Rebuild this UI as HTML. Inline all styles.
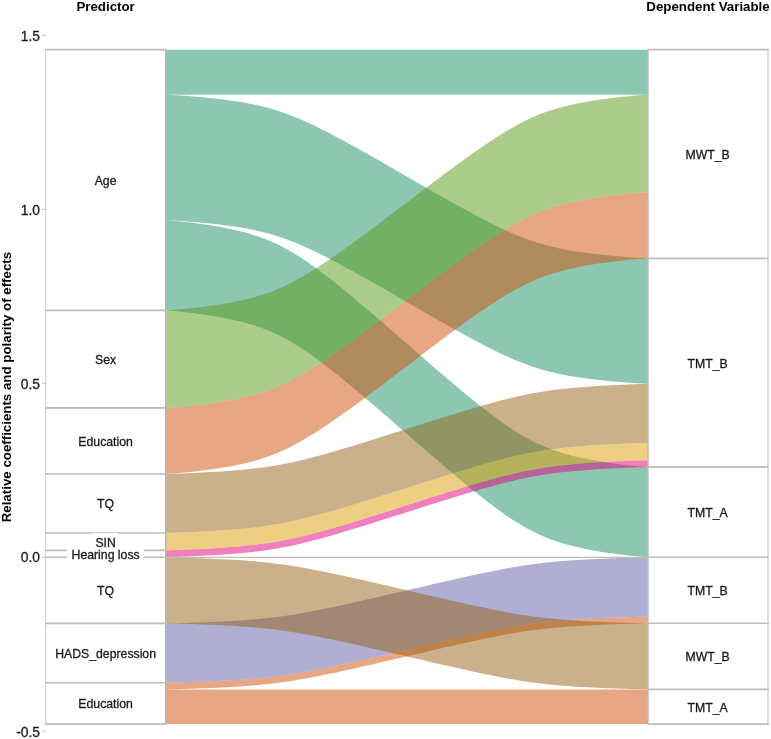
<!DOCTYPE html>
<html><head><meta charset="utf-8"><style>
html,body{margin:0;padding:0;background:#fff;}
body{width:771px;height:739px;overflow:hidden;}
svg{display:block;will-change:transform;font-family:"Liberation Sans",sans-serif;}
.lab{font-size:12.25px;fill:#1a1a1a;stroke:#1a1a1a;stroke-width:0.3px;text-anchor:middle;}
.tick{font-size:13.8px;fill:#1a1a1a;stroke:#1a1a1a;stroke-width:0.3px;text-anchor:end;}
.ttl{font-size:13.3px;font-weight:bold;fill:#000;}
</style></head><body>
<svg width="771" height="739" viewBox="0 0 771 739">
<path d="M165.60 49.65 L165.62 49.65 L165.72 49.65 L166.01 49.65 L166.54 49.65 L167.38 49.65 L168.59 49.65 L170.19 49.65 L172.22 49.65 L174.67 49.65 L177.56 49.65 L180.85 49.65 L184.52 49.65 L188.53 49.65 L192.81 49.65 L197.34 49.65 L202.04 49.65 L206.86 49.65 L211.76 49.65 L216.70 49.65 L221.62 49.65 L226.51 49.65 L231.33 49.65 L236.07 49.65 L240.71 49.65 L245.26 49.65 L249.69 49.65 L254.03 49.65 L258.27 49.65 L262.43 49.65 L266.51 49.65 L270.52 49.65 L274.49 49.65 L278.43 49.65 L282.34 49.65 L286.26 49.65 L290.18 49.65 L294.14 49.65 L298.14 49.65 L302.19 49.65 L306.30 49.65 L310.48 49.65 L314.74 49.65 L319.08 49.65 L323.52 49.65 L328.05 49.65 L332.68 49.65 L337.41 49.65 L342.25 49.65 L347.20 49.65 L352.24 49.65 L357.38 49.65 L362.61 49.65 L367.93 49.65 L373.33 49.65 L378.80 49.65 L384.32 49.65 L389.90 49.65 L395.51 49.65 L401.15 49.65 L406.80 49.65 L412.45 49.65 L418.09 49.65 L423.70 49.65 L429.28 49.65 L434.80 49.65 L440.27 49.65 L445.67 49.65 L450.99 49.65 L456.22 49.65 L461.36 49.65 L466.40 49.65 L471.35 49.65 L476.19 49.65 L480.92 49.65 L485.55 49.65 L490.08 49.65 L494.52 49.65 L498.86 49.65 L503.12 49.65 L507.30 49.65 L511.41 49.65 L515.46 49.65 L519.46 49.65 L523.42 49.65 L527.34 49.65 L531.26 49.65 L535.17 49.65 L539.11 49.65 L543.08 49.65 L547.09 49.65 L551.17 49.65 L555.33 49.65 L559.57 49.65 L563.91 49.65 L568.34 49.65 L572.89 49.65 L577.53 49.65 L582.27 49.65 L587.09 49.65 L591.98 49.65 L596.90 49.65 L601.84 49.65 L606.74 49.65 L611.56 49.65 L616.26 49.65 L620.79 49.65 L625.07 49.65 L629.08 49.65 L632.75 49.65 L636.04 49.65 L638.93 49.65 L641.38 49.65 L643.41 49.65 L645.01 49.65 L646.22 49.65 L647.06 49.65 L647.59 49.65 L647.88 49.65 L647.98 49.65 L648.00 49.65 L648.00 94.65 L647.98 94.65 L647.88 94.65 L647.59 94.65 L647.06 94.65 L646.22 94.65 L645.01 94.65 L643.41 94.65 L641.38 94.65 L638.93 94.65 L636.04 94.65 L632.75 94.65 L629.08 94.65 L625.07 94.65 L620.79 94.65 L616.26 94.65 L611.56 94.65 L606.74 94.65 L601.84 94.65 L596.90 94.65 L591.98 94.65 L587.09 94.65 L582.27 94.65 L577.53 94.65 L572.89 94.65 L568.34 94.65 L563.91 94.65 L559.57 94.65 L555.33 94.65 L551.17 94.65 L547.09 94.65 L543.08 94.65 L539.11 94.65 L535.17 94.65 L531.26 94.65 L527.34 94.65 L523.42 94.65 L519.46 94.65 L515.46 94.65 L511.41 94.65 L507.30 94.65 L503.12 94.65 L498.86 94.65 L494.52 94.65 L490.08 94.65 L485.55 94.65 L480.92 94.65 L476.19 94.65 L471.35 94.65 L466.40 94.65 L461.36 94.65 L456.22 94.65 L450.99 94.65 L445.67 94.65 L440.27 94.65 L434.80 94.65 L429.28 94.65 L423.70 94.65 L418.09 94.65 L412.45 94.65 L406.80 94.65 L401.15 94.65 L395.51 94.65 L389.90 94.65 L384.32 94.65 L378.80 94.65 L373.33 94.65 L367.93 94.65 L362.61 94.65 L357.38 94.65 L352.24 94.65 L347.20 94.65 L342.25 94.65 L337.41 94.65 L332.68 94.65 L328.05 94.65 L323.52 94.65 L319.08 94.65 L314.74 94.65 L310.48 94.65 L306.30 94.65 L302.19 94.65 L298.14 94.65 L294.14 94.65 L290.18 94.65 L286.26 94.65 L282.34 94.65 L278.43 94.65 L274.49 94.65 L270.52 94.65 L266.51 94.65 L262.43 94.65 L258.27 94.65 L254.03 94.65 L249.69 94.65 L245.26 94.65 L240.71 94.65 L236.07 94.65 L231.33 94.65 L226.51 94.65 L221.62 94.65 L216.70 94.65 L211.76 94.65 L206.86 94.65 L202.04 94.65 L197.34 94.65 L192.81 94.65 L188.53 94.65 L184.52 94.65 L180.85 94.65 L177.56 94.65 L174.67 94.65 L172.22 94.65 L170.19 94.65 L168.59 94.65 L167.38 94.65 L166.54 94.65 L166.01 94.65 L165.72 94.65 L165.62 94.65 L165.60 94.65Z" fill="#1b8f63" fill-opacity="0.500"/>
<path d="M165.60 94.65 L165.62 94.65 L165.72 94.66 L166.01 94.67 L166.54 94.69 L167.38 94.73 L168.59 94.79 L170.19 94.88 L172.22 95.00 L174.67 95.14 L177.56 95.33 L180.85 95.55 L184.52 95.81 L188.53 96.11 L192.81 96.45 L197.34 96.83 L202.04 97.25 L206.86 97.72 L211.76 98.22 L216.70 98.77 L221.62 99.35 L226.51 99.97 L231.33 100.64 L236.07 101.34 L240.71 102.08 L245.26 102.87 L249.69 103.70 L254.03 104.58 L258.27 105.50 L262.43 106.48 L266.51 107.52 L270.52 108.62 L274.49 109.78 L278.43 111.01 L282.34 112.32 L286.26 113.70 L290.18 115.17 L294.14 116.72 L298.14 118.37 L302.19 120.10 L306.30 121.93 L310.48 123.85 L314.74 125.87 L319.08 127.98 L323.52 130.19 L328.05 132.49 L332.68 134.89 L337.41 137.38 L342.25 139.97 L347.20 142.65 L352.24 145.41 L357.38 148.26 L362.61 151.18 L367.93 154.18 L373.33 157.24 L378.80 160.36 L384.32 163.53 L389.90 166.74 L395.51 169.97 L401.15 173.23 L406.80 176.50 L412.45 179.77 L418.09 183.03 L423.70 186.26 L429.28 189.47 L434.80 192.64 L440.27 195.76 L445.67 198.82 L450.99 201.82 L456.22 204.74 L461.36 207.59 L466.40 210.35 L471.35 213.03 L476.19 215.62 L480.92 218.11 L485.55 220.51 L490.08 222.81 L494.52 225.02 L498.86 227.13 L503.12 229.15 L507.30 231.07 L511.41 232.90 L515.46 234.63 L519.46 236.28 L523.42 237.83 L527.34 239.30 L531.26 240.68 L535.17 241.99 L539.11 243.22 L543.08 244.38 L547.09 245.48 L551.17 246.52 L555.33 247.50 L559.57 248.42 L563.91 249.30 L568.34 250.13 L572.89 250.92 L577.53 251.66 L582.27 252.36 L587.09 253.03 L591.98 253.65 L596.90 254.23 L601.84 254.78 L606.74 255.28 L611.56 255.75 L616.26 256.17 L620.79 256.55 L625.07 256.89 L629.08 257.19 L632.75 257.45 L636.04 257.67 L638.93 257.86 L641.38 258.00 L643.41 258.12 L645.01 258.21 L646.22 258.27 L647.06 258.31 L647.59 258.33 L647.88 258.34 L647.98 258.35 L648.00 258.35 L648.00 383.85 L647.98 383.85 L647.88 383.84 L647.59 383.83 L647.06 383.81 L646.22 383.77 L645.01 383.71 L643.41 383.62 L641.38 383.50 L638.93 383.36 L636.04 383.17 L632.75 382.95 L629.08 382.69 L625.07 382.39 L620.79 382.05 L616.26 381.67 L611.56 381.25 L606.74 380.78 L601.84 380.28 L596.90 379.73 L591.98 379.15 L587.09 378.53 L582.27 377.86 L577.53 377.16 L572.89 376.42 L568.34 375.63 L563.91 374.80 L559.57 373.92 L555.33 373.00 L551.17 372.02 L547.09 370.98 L543.08 369.88 L539.11 368.72 L535.17 367.49 L531.26 366.18 L527.34 364.80 L523.42 363.33 L519.46 361.78 L515.46 360.13 L511.41 358.40 L507.30 356.57 L503.12 354.65 L498.86 352.63 L494.52 350.52 L490.08 348.31 L485.55 346.01 L480.92 343.61 L476.19 341.12 L471.35 338.53 L466.40 335.85 L461.36 333.09 L456.22 330.24 L450.99 327.32 L445.67 324.32 L440.27 321.26 L434.80 318.14 L429.28 314.97 L423.70 311.76 L418.09 308.53 L412.45 305.27 L406.80 302.00 L401.15 298.73 L395.51 295.47 L389.90 292.24 L384.32 289.03 L378.80 285.86 L373.33 282.74 L367.93 279.68 L362.61 276.68 L357.38 273.76 L352.24 270.91 L347.20 268.15 L342.25 265.47 L337.41 262.88 L332.68 260.39 L328.05 257.99 L323.52 255.69 L319.08 253.48 L314.74 251.37 L310.48 249.35 L306.30 247.43 L302.19 245.60 L298.14 243.87 L294.14 242.22 L290.18 240.67 L286.26 239.20 L282.34 237.82 L278.43 236.51 L274.49 235.28 L270.52 234.12 L266.51 233.02 L262.43 231.98 L258.27 231.00 L254.03 230.08 L249.69 229.20 L245.26 228.37 L240.71 227.58 L236.07 226.84 L231.33 226.14 L226.51 225.47 L221.62 224.85 L216.70 224.27 L211.76 223.72 L206.86 223.22 L202.04 222.75 L197.34 222.33 L192.81 221.95 L188.53 221.61 L184.52 221.31 L180.85 221.05 L177.56 220.83 L174.67 220.64 L172.22 220.50 L170.19 220.38 L168.59 220.29 L167.38 220.23 L166.54 220.19 L166.01 220.17 L165.72 220.16 L165.62 220.15 L165.60 220.15Z" fill="#1b8f63" fill-opacity="0.500"/>
<path d="M165.60 220.15 L165.62 220.15 L165.72 220.16 L166.01 220.18 L166.54 220.21 L167.38 220.28 L168.59 220.37 L170.19 220.50 L172.22 220.67 L174.67 220.89 L177.56 221.17 L180.85 221.50 L184.52 221.89 L188.53 222.35 L192.81 222.86 L197.34 223.44 L202.04 224.08 L206.86 224.78 L211.76 225.54 L216.70 226.36 L221.62 227.24 L226.51 228.18 L231.33 229.18 L236.07 230.24 L240.71 231.36 L245.26 232.55 L249.69 233.80 L254.03 235.13 L258.27 236.52 L262.43 238.00 L266.51 239.57 L270.52 241.22 L274.49 242.97 L278.43 244.83 L282.34 246.80 L286.26 248.89 L290.18 251.10 L294.14 253.45 L298.14 255.93 L302.19 258.55 L306.30 261.31 L310.48 264.21 L314.74 267.25 L319.08 270.43 L323.52 273.76 L328.05 277.23 L332.68 280.85 L337.41 284.61 L342.25 288.51 L347.20 292.55 L352.24 296.73 L357.38 301.02 L362.61 305.44 L367.93 309.96 L373.33 314.58 L378.80 319.28 L384.32 324.06 L389.90 328.90 L395.51 333.78 L401.15 338.70 L406.80 343.63 L412.45 348.55 L418.09 353.47 L423.70 358.35 L429.28 363.19 L434.80 367.97 L440.27 372.67 L445.67 377.29 L450.99 381.81 L456.22 386.23 L461.36 390.52 L466.40 394.70 L471.35 398.74 L476.19 402.64 L480.92 406.40 L485.55 410.02 L490.08 413.49 L494.52 416.82 L498.86 420.00 L503.12 423.04 L507.30 425.94 L511.41 428.70 L515.46 431.32 L519.46 433.80 L523.42 436.15 L527.34 438.36 L531.26 440.45 L535.17 442.42 L539.11 444.28 L543.08 446.03 L547.09 447.68 L551.17 449.25 L555.33 450.73 L559.57 452.12 L563.91 453.45 L568.34 454.70 L572.89 455.89 L577.53 457.01 L582.27 458.07 L587.09 459.07 L591.98 460.01 L596.90 460.89 L601.84 461.71 L606.74 462.47 L611.56 463.17 L616.26 463.81 L620.79 464.39 L625.07 464.90 L629.08 465.36 L632.75 465.75 L636.04 466.08 L638.93 466.36 L641.38 466.58 L643.41 466.75 L645.01 466.88 L646.22 466.97 L647.06 467.04 L647.59 467.07 L647.88 467.09 L647.98 467.10 L648.00 467.10 L648.00 557.30 L647.98 557.30 L647.88 557.29 L647.59 557.27 L647.06 557.24 L646.22 557.17 L645.01 557.08 L643.41 556.95 L641.38 556.78 L638.93 556.56 L636.04 556.28 L632.75 555.95 L629.08 555.56 L625.07 555.10 L620.79 554.59 L616.26 554.01 L611.56 553.37 L606.74 552.67 L601.84 551.91 L596.90 551.09 L591.98 550.21 L587.09 549.27 L582.27 548.27 L577.53 547.21 L572.89 546.09 L568.34 544.90 L563.91 543.65 L559.57 542.32 L555.33 540.93 L551.17 539.45 L547.09 537.88 L543.08 536.23 L539.11 534.48 L535.17 532.62 L531.26 530.65 L527.34 528.56 L523.42 526.35 L519.46 524.00 L515.46 521.52 L511.41 518.90 L507.30 516.14 L503.12 513.24 L498.86 510.20 L494.52 507.02 L490.08 503.69 L485.55 500.22 L480.92 496.60 L476.19 492.84 L471.35 488.94 L466.40 484.90 L461.36 480.72 L456.22 476.43 L450.99 472.01 L445.67 467.49 L440.27 462.87 L434.80 458.17 L429.28 453.39 L423.70 448.55 L418.09 443.67 L412.45 438.75 L406.80 433.82 L401.15 428.90 L395.51 423.98 L389.90 419.10 L384.32 414.26 L378.80 409.48 L373.33 404.78 L367.93 400.16 L362.61 395.64 L357.38 391.22 L352.24 386.93 L347.20 382.75 L342.25 378.71 L337.41 374.81 L332.68 371.05 L328.05 367.43 L323.52 363.96 L319.08 360.63 L314.74 357.45 L310.48 354.41 L306.30 351.51 L302.19 348.75 L298.14 346.13 L294.14 343.65 L290.18 341.30 L286.26 339.09 L282.34 337.00 L278.43 335.03 L274.49 333.17 L270.52 331.42 L266.51 329.77 L262.43 328.20 L258.27 326.72 L254.03 325.33 L249.69 324.00 L245.26 322.75 L240.71 321.56 L236.07 320.44 L231.33 319.38 L226.51 318.38 L221.62 317.44 L216.70 316.56 L211.76 315.74 L206.86 314.98 L202.04 314.28 L197.34 313.64 L192.81 313.06 L188.53 312.55 L184.52 312.09 L180.85 311.70 L177.56 311.37 L174.67 311.09 L172.22 310.87 L170.19 310.70 L168.59 310.57 L167.38 310.48 L166.54 310.41 L166.01 310.38 L165.72 310.36 L165.62 310.35 L165.60 310.35Z" fill="#1b8f63" fill-opacity="0.500"/>
<path d="M165.60 407.85 L165.62 407.85 L165.72 407.84 L166.01 407.83 L166.54 407.79 L167.38 407.74 L168.59 407.66 L170.19 407.55 L172.22 407.39 L174.67 407.20 L177.56 406.96 L180.85 406.67 L184.52 406.33 L188.53 405.93 L192.81 405.48 L197.34 404.98 L202.04 404.42 L206.86 403.81 L211.76 403.14 L216.70 402.43 L221.62 401.66 L226.51 400.83 L231.33 399.96 L236.07 399.04 L240.71 398.06 L245.26 397.02 L249.69 395.93 L254.03 394.77 L258.27 393.55 L262.43 392.26 L266.51 390.89 L270.52 389.45 L274.49 387.91 L278.43 386.29 L282.34 384.57 L286.26 382.75 L290.18 380.82 L294.14 378.77 L298.14 376.60 L302.19 374.31 L306.30 371.90 L310.48 369.37 L314.74 366.71 L319.08 363.93 L323.52 361.03 L328.05 357.99 L332.68 354.83 L337.41 351.55 L342.25 348.14 L347.20 344.61 L352.24 340.97 L357.38 337.21 L362.61 333.36 L367.93 329.41 L373.33 325.37 L378.80 321.26 L384.32 317.09 L389.90 312.86 L395.51 308.60 L401.15 304.31 L406.80 300.00 L412.45 295.69 L418.09 291.40 L423.70 287.14 L429.28 282.91 L434.80 278.74 L440.27 274.63 L445.67 270.59 L450.99 266.64 L456.22 262.79 L461.36 259.03 L466.40 255.39 L471.35 251.86 L476.19 248.45 L480.92 245.17 L485.55 242.01 L490.08 238.97 L494.52 236.07 L498.86 233.29 L503.12 230.63 L507.30 228.10 L511.41 225.69 L515.46 223.40 L519.46 221.23 L523.42 219.18 L527.34 217.25 L531.26 215.43 L535.17 213.71 L539.11 212.09 L543.08 210.55 L547.09 209.11 L551.17 207.74 L555.33 206.45 L559.57 205.23 L563.91 204.07 L568.34 202.98 L572.89 201.94 L577.53 200.96 L582.27 200.04 L587.09 199.17 L591.98 198.34 L596.90 197.57 L601.84 196.86 L606.74 196.19 L611.56 195.58 L616.26 195.02 L620.79 194.52 L625.07 194.07 L629.08 193.67 L632.75 193.33 L636.04 193.04 L638.93 192.80 L641.38 192.61 L643.41 192.45 L645.01 192.34 L646.22 192.26 L647.06 192.21 L647.59 192.17 L647.88 192.16 L647.98 192.15 L648.00 192.15 L648.00 258.35 L647.98 258.35 L647.88 258.36 L647.59 258.37 L647.06 258.41 L646.22 258.46 L645.01 258.54 L643.41 258.65 L641.38 258.81 L638.93 259.00 L636.04 259.24 L632.75 259.53 L629.08 259.87 L625.07 260.27 L620.79 260.72 L616.26 261.22 L611.56 261.78 L606.74 262.39 L601.84 263.06 L596.90 263.77 L591.98 264.54 L587.09 265.37 L582.27 266.24 L577.53 267.16 L572.89 268.14 L568.34 269.18 L563.91 270.27 L559.57 271.43 L555.33 272.65 L551.17 273.94 L547.09 275.31 L543.08 276.75 L539.11 278.29 L535.17 279.91 L531.26 281.63 L527.34 283.45 L523.42 285.38 L519.46 287.43 L515.46 289.60 L511.41 291.89 L507.30 294.30 L503.12 296.83 L498.86 299.49 L494.52 302.27 L490.08 305.17 L485.55 308.21 L480.92 311.37 L476.19 314.65 L471.35 318.06 L466.40 321.59 L461.36 325.23 L456.22 328.99 L450.99 332.84 L445.67 336.79 L440.27 340.83 L434.80 344.94 L429.28 349.11 L423.70 353.34 L418.09 357.60 L412.45 361.89 L406.80 366.20 L401.15 370.51 L395.51 374.80 L389.90 379.06 L384.32 383.29 L378.80 387.46 L373.33 391.57 L367.93 395.61 L362.61 399.56 L357.38 403.41 L352.24 407.17 L347.20 410.81 L342.25 414.34 L337.41 417.75 L332.68 421.03 L328.05 424.19 L323.52 427.23 L319.08 430.13 L314.74 432.91 L310.48 435.57 L306.30 438.10 L302.19 440.51 L298.14 442.80 L294.14 444.97 L290.18 447.02 L286.26 448.95 L282.34 450.77 L278.43 452.49 L274.49 454.11 L270.52 455.65 L266.51 457.09 L262.43 458.46 L258.27 459.75 L254.03 460.97 L249.69 462.13 L245.26 463.22 L240.71 464.26 L236.07 465.24 L231.33 466.16 L226.51 467.03 L221.62 467.86 L216.70 468.63 L211.76 469.34 L206.86 470.01 L202.04 470.62 L197.34 471.18 L192.81 471.68 L188.53 472.13 L184.52 472.53 L180.85 472.87 L177.56 473.16 L174.67 473.40 L172.22 473.59 L170.19 473.75 L168.59 473.86 L167.38 473.94 L166.54 473.99 L166.01 474.03 L165.72 474.04 L165.62 474.05 L165.60 474.05Z" fill="#cf4d09" fill-opacity="0.500"/>
<path d="M165.60 682.70 L165.62 682.70 L165.72 682.70 L166.01 682.69 L166.54 682.68 L167.38 682.67 L168.59 682.64 L170.19 682.61 L172.22 682.56 L174.67 682.50 L177.56 682.43 L180.85 682.34 L184.52 682.23 L188.53 682.11 L192.81 681.97 L197.34 681.82 L202.04 681.65 L206.86 681.46 L211.76 681.26 L216.70 681.04 L221.62 680.80 L226.51 680.55 L231.33 680.28 L236.07 680.00 L240.71 679.70 L245.26 679.38 L249.69 679.05 L254.03 678.69 L258.27 678.32 L262.43 677.92 L266.51 677.50 L270.52 677.06 L274.49 676.59 L278.43 676.09 L282.34 675.57 L286.26 675.01 L290.18 674.42 L294.14 673.79 L298.14 673.12 L302.19 672.42 L306.30 671.68 L310.48 670.91 L314.74 670.09 L319.08 669.24 L323.52 668.35 L328.05 667.42 L332.68 666.45 L337.41 665.45 L342.25 664.40 L347.20 663.32 L352.24 662.20 L357.38 661.05 L362.61 659.87 L367.93 658.66 L373.33 657.43 L378.80 656.17 L384.32 654.89 L389.90 653.59 L395.51 652.28 L401.15 650.97 L406.80 649.65 L412.45 648.33 L418.09 647.02 L423.70 645.71 L429.28 644.41 L434.80 643.13 L440.27 641.87 L445.67 640.64 L450.99 639.43 L456.22 638.25 L461.36 637.10 L466.40 635.98 L471.35 634.90 L476.19 633.85 L480.92 632.85 L485.55 631.88 L490.08 630.95 L494.52 630.06 L498.86 629.21 L503.12 628.39 L507.30 627.62 L511.41 626.88 L515.46 626.18 L519.46 625.51 L523.42 624.88 L527.34 624.29 L531.26 623.73 L535.17 623.21 L539.11 622.71 L543.08 622.24 L547.09 621.80 L551.17 621.38 L555.33 620.98 L559.57 620.61 L563.91 620.25 L568.34 619.92 L572.89 619.60 L577.53 619.30 L582.27 619.02 L587.09 618.75 L591.98 618.50 L596.90 618.26 L601.84 618.04 L606.74 617.84 L611.56 617.65 L616.26 617.48 L620.79 617.33 L625.07 617.19 L629.08 617.07 L632.75 616.96 L636.04 616.87 L638.93 616.80 L641.38 616.74 L643.41 616.69 L645.01 616.66 L646.22 616.63 L647.06 616.62 L647.59 616.61 L647.88 616.60 L647.98 616.60 L648.00 616.60 L648.00 623.30 L647.98 623.30 L647.88 623.30 L647.59 623.31 L647.06 623.32 L646.22 623.33 L645.01 623.36 L643.41 623.39 L641.38 623.44 L638.93 623.50 L636.04 623.57 L632.75 623.66 L629.08 623.77 L625.07 623.89 L620.79 624.03 L616.26 624.18 L611.56 624.35 L606.74 624.54 L601.84 624.74 L596.90 624.96 L591.98 625.20 L587.09 625.45 L582.27 625.72 L577.53 626.00 L572.89 626.30 L568.34 626.62 L563.91 626.95 L559.57 627.31 L555.33 627.68 L551.17 628.08 L547.09 628.50 L543.08 628.94 L539.11 629.41 L535.17 629.91 L531.26 630.43 L527.34 630.99 L523.42 631.58 L519.46 632.21 L515.46 632.88 L511.41 633.58 L507.30 634.32 L503.12 635.09 L498.86 635.91 L494.52 636.76 L490.08 637.65 L485.55 638.58 L480.92 639.55 L476.19 640.55 L471.35 641.60 L466.40 642.68 L461.36 643.80 L456.22 644.95 L450.99 646.13 L445.67 647.34 L440.27 648.57 L434.80 649.83 L429.28 651.11 L423.70 652.41 L418.09 653.72 L412.45 655.03 L406.80 656.35 L401.15 657.67 L395.51 658.98 L389.90 660.29 L384.32 661.59 L378.80 662.87 L373.33 664.13 L367.93 665.36 L362.61 666.57 L357.38 667.75 L352.24 668.90 L347.20 670.02 L342.25 671.10 L337.41 672.15 L332.68 673.15 L328.05 674.12 L323.52 675.05 L319.08 675.94 L314.74 676.79 L310.48 677.61 L306.30 678.38 L302.19 679.12 L298.14 679.82 L294.14 680.49 L290.18 681.12 L286.26 681.71 L282.34 682.27 L278.43 682.79 L274.49 683.29 L270.52 683.76 L266.51 684.20 L262.43 684.62 L258.27 685.02 L254.03 685.39 L249.69 685.75 L245.26 686.08 L240.71 686.40 L236.07 686.70 L231.33 686.98 L226.51 687.25 L221.62 687.50 L216.70 687.74 L211.76 687.96 L206.86 688.16 L202.04 688.35 L197.34 688.52 L192.81 688.67 L188.53 688.81 L184.52 688.93 L180.85 689.04 L177.56 689.13 L174.67 689.20 L172.22 689.26 L170.19 689.31 L168.59 689.34 L167.38 689.37 L166.54 689.38 L166.01 689.39 L165.72 689.40 L165.62 689.40 L165.60 689.40Z" fill="#cf4d09" fill-opacity="0.500"/>
<path d="M165.60 689.40 L165.62 689.40 L165.72 689.40 L166.01 689.40 L166.54 689.40 L167.38 689.40 L168.59 689.40 L170.19 689.40 L172.22 689.40 L174.67 689.40 L177.56 689.40 L180.85 689.40 L184.52 689.40 L188.53 689.40 L192.81 689.40 L197.34 689.40 L202.04 689.40 L206.86 689.40 L211.76 689.40 L216.70 689.40 L221.62 689.40 L226.51 689.40 L231.33 689.40 L236.07 689.40 L240.71 689.40 L245.26 689.40 L249.69 689.40 L254.03 689.40 L258.27 689.40 L262.43 689.40 L266.51 689.40 L270.52 689.40 L274.49 689.40 L278.43 689.40 L282.34 689.40 L286.26 689.40 L290.18 689.40 L294.14 689.40 L298.14 689.40 L302.19 689.40 L306.30 689.40 L310.48 689.40 L314.74 689.40 L319.08 689.40 L323.52 689.40 L328.05 689.40 L332.68 689.40 L337.41 689.40 L342.25 689.40 L347.20 689.40 L352.24 689.40 L357.38 689.40 L362.61 689.40 L367.93 689.40 L373.33 689.40 L378.80 689.40 L384.32 689.40 L389.90 689.40 L395.51 689.40 L401.15 689.40 L406.80 689.40 L412.45 689.40 L418.09 689.40 L423.70 689.40 L429.28 689.40 L434.80 689.40 L440.27 689.40 L445.67 689.40 L450.99 689.40 L456.22 689.40 L461.36 689.40 L466.40 689.40 L471.35 689.40 L476.19 689.40 L480.92 689.40 L485.55 689.40 L490.08 689.40 L494.52 689.40 L498.86 689.40 L503.12 689.40 L507.30 689.40 L511.41 689.40 L515.46 689.40 L519.46 689.40 L523.42 689.40 L527.34 689.40 L531.26 689.40 L535.17 689.40 L539.11 689.40 L543.08 689.40 L547.09 689.40 L551.17 689.40 L555.33 689.40 L559.57 689.40 L563.91 689.40 L568.34 689.40 L572.89 689.40 L577.53 689.40 L582.27 689.40 L587.09 689.40 L591.98 689.40 L596.90 689.40 L601.84 689.40 L606.74 689.40 L611.56 689.40 L616.26 689.40 L620.79 689.40 L625.07 689.40 L629.08 689.40 L632.75 689.40 L636.04 689.40 L638.93 689.40 L641.38 689.40 L643.41 689.40 L645.01 689.40 L646.22 689.40 L647.06 689.40 L647.59 689.40 L647.88 689.40 L647.98 689.40 L648.00 689.40 L648.00 724.10 L647.98 724.10 L647.88 724.10 L647.59 724.10 L647.06 724.10 L646.22 724.10 L645.01 724.10 L643.41 724.10 L641.38 724.10 L638.93 724.10 L636.04 724.10 L632.75 724.10 L629.08 724.10 L625.07 724.10 L620.79 724.10 L616.26 724.10 L611.56 724.10 L606.74 724.10 L601.84 724.10 L596.90 724.10 L591.98 724.10 L587.09 724.10 L582.27 724.10 L577.53 724.10 L572.89 724.10 L568.34 724.10 L563.91 724.10 L559.57 724.10 L555.33 724.10 L551.17 724.10 L547.09 724.10 L543.08 724.10 L539.11 724.10 L535.17 724.10 L531.26 724.10 L527.34 724.10 L523.42 724.10 L519.46 724.10 L515.46 724.10 L511.41 724.10 L507.30 724.10 L503.12 724.10 L498.86 724.10 L494.52 724.10 L490.08 724.10 L485.55 724.10 L480.92 724.10 L476.19 724.10 L471.35 724.10 L466.40 724.10 L461.36 724.10 L456.22 724.10 L450.99 724.10 L445.67 724.10 L440.27 724.10 L434.80 724.10 L429.28 724.10 L423.70 724.10 L418.09 724.10 L412.45 724.10 L406.80 724.10 L401.15 724.10 L395.51 724.10 L389.90 724.10 L384.32 724.10 L378.80 724.10 L373.33 724.10 L367.93 724.10 L362.61 724.10 L357.38 724.10 L352.24 724.10 L347.20 724.10 L342.25 724.10 L337.41 724.10 L332.68 724.10 L328.05 724.10 L323.52 724.10 L319.08 724.10 L314.74 724.10 L310.48 724.10 L306.30 724.10 L302.19 724.10 L298.14 724.10 L294.14 724.10 L290.18 724.10 L286.26 724.10 L282.34 724.10 L278.43 724.10 L274.49 724.10 L270.52 724.10 L266.51 724.10 L262.43 724.10 L258.27 724.10 L254.03 724.10 L249.69 724.10 L245.26 724.10 L240.71 724.10 L236.07 724.10 L231.33 724.10 L226.51 724.10 L221.62 724.10 L216.70 724.10 L211.76 724.10 L206.86 724.10 L202.04 724.10 L197.34 724.10 L192.81 724.10 L188.53 724.10 L184.52 724.10 L180.85 724.10 L177.56 724.10 L174.67 724.10 L172.22 724.10 L170.19 724.10 L168.59 724.10 L167.38 724.10 L166.54 724.10 L166.01 724.10 L165.72 724.10 L165.62 724.10 L165.60 724.10Z" fill="#cf4d09" fill-opacity="0.500"/>
<path d="M165.60 623.40 L165.62 623.40 L165.72 623.40 L166.01 623.39 L166.54 623.38 L167.38 623.37 L168.59 623.34 L170.19 623.31 L172.22 623.26 L174.67 623.20 L177.56 623.13 L180.85 623.04 L184.52 622.93 L188.53 622.81 L192.81 622.67 L197.34 622.52 L202.04 622.35 L206.86 622.16 L211.76 621.96 L216.70 621.74 L221.62 621.50 L226.51 621.25 L231.33 620.98 L236.07 620.70 L240.71 620.40 L245.26 620.08 L249.69 619.75 L254.03 619.39 L258.27 619.02 L262.43 618.62 L266.51 618.20 L270.52 617.76 L274.49 617.29 L278.43 616.79 L282.34 616.27 L286.26 615.71 L290.18 615.12 L294.14 614.49 L298.14 613.82 L302.19 613.12 L306.30 612.38 L310.48 611.61 L314.74 610.79 L319.08 609.94 L323.52 609.05 L328.05 608.12 L332.68 607.15 L337.41 606.15 L342.25 605.10 L347.20 604.02 L352.24 602.90 L357.38 601.75 L362.61 600.57 L367.93 599.36 L373.33 598.13 L378.80 596.87 L384.32 595.59 L389.90 594.29 L395.51 592.98 L401.15 591.67 L406.80 590.35 L412.45 589.03 L418.09 587.72 L423.70 586.41 L429.28 585.11 L434.80 583.83 L440.27 582.57 L445.67 581.34 L450.99 580.13 L456.22 578.95 L461.36 577.80 L466.40 576.68 L471.35 575.60 L476.19 574.55 L480.92 573.55 L485.55 572.58 L490.08 571.65 L494.52 570.76 L498.86 569.91 L503.12 569.09 L507.30 568.32 L511.41 567.58 L515.46 566.88 L519.46 566.21 L523.42 565.58 L527.34 564.99 L531.26 564.43 L535.17 563.91 L539.11 563.41 L543.08 562.94 L547.09 562.50 L551.17 562.08 L555.33 561.68 L559.57 561.31 L563.91 560.95 L568.34 560.62 L572.89 560.30 L577.53 560.00 L582.27 559.72 L587.09 559.45 L591.98 559.20 L596.90 558.96 L601.84 558.74 L606.74 558.54 L611.56 558.35 L616.26 558.18 L620.79 558.03 L625.07 557.89 L629.08 557.77 L632.75 557.66 L636.04 557.57 L638.93 557.50 L641.38 557.44 L643.41 557.39 L645.01 557.36 L646.22 557.33 L647.06 557.32 L647.59 557.31 L647.88 557.30 L647.98 557.30 L648.00 557.30 L648.00 616.60 L647.98 616.60 L647.88 616.60 L647.59 616.61 L647.06 616.62 L646.22 616.63 L645.01 616.66 L643.41 616.69 L641.38 616.74 L638.93 616.80 L636.04 616.87 L632.75 616.96 L629.08 617.07 L625.07 617.19 L620.79 617.33 L616.26 617.48 L611.56 617.65 L606.74 617.84 L601.84 618.04 L596.90 618.26 L591.98 618.50 L587.09 618.75 L582.27 619.02 L577.53 619.30 L572.89 619.60 L568.34 619.92 L563.91 620.25 L559.57 620.61 L555.33 620.98 L551.17 621.38 L547.09 621.80 L543.08 622.24 L539.11 622.71 L535.17 623.21 L531.26 623.73 L527.34 624.29 L523.42 624.88 L519.46 625.51 L515.46 626.18 L511.41 626.88 L507.30 627.62 L503.12 628.39 L498.86 629.21 L494.52 630.06 L490.08 630.95 L485.55 631.88 L480.92 632.85 L476.19 633.85 L471.35 634.90 L466.40 635.98 L461.36 637.10 L456.22 638.25 L450.99 639.43 L445.67 640.64 L440.27 641.87 L434.80 643.13 L429.28 644.41 L423.70 645.71 L418.09 647.02 L412.45 648.33 L406.80 649.65 L401.15 650.97 L395.51 652.28 L389.90 653.59 L384.32 654.89 L378.80 656.17 L373.33 657.43 L367.93 658.66 L362.61 659.87 L357.38 661.05 L352.24 662.20 L347.20 663.32 L342.25 664.40 L337.41 665.45 L332.68 666.45 L328.05 667.42 L323.52 668.35 L319.08 669.24 L314.74 670.09 L310.48 670.91 L306.30 671.68 L302.19 672.42 L298.14 673.12 L294.14 673.79 L290.18 674.42 L286.26 675.01 L282.34 675.57 L278.43 676.09 L274.49 676.59 L270.52 677.06 L266.51 677.50 L262.43 677.92 L258.27 678.32 L254.03 678.69 L249.69 679.05 L245.26 679.38 L240.71 679.70 L236.07 680.00 L231.33 680.28 L226.51 680.55 L221.62 680.80 L216.70 681.04 L211.76 681.26 L206.86 681.46 L202.04 681.65 L197.34 681.82 L192.81 681.97 L188.53 682.11 L184.52 682.23 L180.85 682.34 L177.56 682.43 L174.67 682.50 L172.22 682.56 L170.19 682.61 L168.59 682.64 L167.38 682.67 L166.54 682.68 L166.01 682.69 L165.72 682.70 L165.62 682.70 L165.60 682.70Z" fill="#635da7" fill-opacity="0.500"/>
<path d="M165.60 550.35 L165.62 550.35 L165.72 550.35 L166.01 550.34 L166.54 550.33 L167.38 550.30 L168.59 550.27 L170.19 550.22 L172.22 550.16 L174.67 550.08 L177.56 549.98 L180.85 549.86 L184.52 549.71 L188.53 549.55 L192.81 549.36 L197.34 549.15 L202.04 548.92 L206.86 548.66 L211.76 548.38 L216.70 548.08 L221.62 547.76 L226.51 547.42 L231.33 547.05 L236.07 546.66 L240.71 546.25 L245.26 545.82 L249.69 545.36 L254.03 544.88 L258.27 544.37 L262.43 543.83 L266.51 543.26 L270.52 542.65 L274.49 542.01 L278.43 541.33 L282.34 540.62 L286.26 539.85 L290.18 539.04 L294.14 538.19 L298.14 537.28 L302.19 536.32 L306.30 535.32 L310.48 534.26 L314.74 533.15 L319.08 531.99 L323.52 530.77 L328.05 529.50 L332.68 528.18 L337.41 526.81 L342.25 525.38 L347.20 523.90 L352.24 522.38 L357.38 520.81 L362.61 519.20 L367.93 517.55 L373.33 515.86 L378.80 514.14 L384.32 512.40 L389.90 510.63 L395.51 508.85 L401.15 507.05 L406.80 505.25 L412.45 503.45 L418.09 501.65 L423.70 499.87 L429.28 498.10 L434.80 496.36 L440.27 494.64 L445.67 492.95 L450.99 491.30 L456.22 489.69 L461.36 488.12 L466.40 486.60 L471.35 485.12 L476.19 483.69 L480.92 482.32 L485.55 481.00 L490.08 479.73 L494.52 478.51 L498.86 477.35 L503.12 476.24 L507.30 475.18 L511.41 474.18 L515.46 473.22 L519.46 472.31 L523.42 471.46 L527.34 470.65 L531.26 469.88 L535.17 469.17 L539.11 468.49 L543.08 467.85 L547.09 467.24 L551.17 466.67 L555.33 466.13 L559.57 465.62 L563.91 465.14 L568.34 464.68 L572.89 464.25 L577.53 463.84 L582.27 463.45 L587.09 463.08 L591.98 462.74 L596.90 462.42 L601.84 462.12 L606.74 461.84 L611.56 461.58 L616.26 461.35 L620.79 461.14 L625.07 460.95 L629.08 460.79 L632.75 460.64 L636.04 460.52 L638.93 460.42 L641.38 460.34 L643.41 460.28 L645.01 460.23 L646.22 460.20 L647.06 460.17 L647.59 460.16 L647.88 460.15 L647.98 460.15 L648.00 460.15 L648.00 467.10 L647.98 467.10 L647.88 467.10 L647.59 467.11 L647.06 467.12 L646.22 467.15 L645.01 467.18 L643.41 467.23 L641.38 467.29 L638.93 467.37 L636.04 467.47 L632.75 467.59 L629.08 467.74 L625.07 467.90 L620.79 468.09 L616.26 468.30 L611.56 468.53 L606.74 468.79 L601.84 469.07 L596.90 469.37 L591.98 469.69 L587.09 470.03 L582.27 470.40 L577.53 470.79 L572.89 471.20 L568.34 471.63 L563.91 472.09 L559.57 472.57 L555.33 473.08 L551.17 473.62 L547.09 474.19 L543.08 474.80 L539.11 475.44 L535.17 476.12 L531.26 476.83 L527.34 477.60 L523.42 478.41 L519.46 479.26 L515.46 480.17 L511.41 481.13 L507.30 482.13 L503.12 483.19 L498.86 484.30 L494.52 485.46 L490.08 486.68 L485.55 487.95 L480.92 489.27 L476.19 490.64 L471.35 492.07 L466.40 493.55 L461.36 495.07 L456.22 496.64 L450.99 498.25 L445.67 499.90 L440.27 501.59 L434.80 503.31 L429.28 505.05 L423.70 506.82 L418.09 508.60 L412.45 510.40 L406.80 512.20 L401.15 514.00 L395.51 515.80 L389.90 517.58 L384.32 519.35 L378.80 521.09 L373.33 522.81 L367.93 524.50 L362.61 526.15 L357.38 527.76 L352.24 529.33 L347.20 530.85 L342.25 532.33 L337.41 533.76 L332.68 535.13 L328.05 536.45 L323.52 537.72 L319.08 538.94 L314.74 540.10 L310.48 541.21 L306.30 542.27 L302.19 543.27 L298.14 544.23 L294.14 545.14 L290.18 545.99 L286.26 546.80 L282.34 547.57 L278.43 548.28 L274.49 548.96 L270.52 549.60 L266.51 550.21 L262.43 550.78 L258.27 551.32 L254.03 551.83 L249.69 552.31 L245.26 552.77 L240.71 553.20 L236.07 553.61 L231.33 554.00 L226.51 554.37 L221.62 554.71 L216.70 555.03 L211.76 555.33 L206.86 555.61 L202.04 555.87 L197.34 556.10 L192.81 556.31 L188.53 556.50 L184.52 556.66 L180.85 556.81 L177.56 556.93 L174.67 557.03 L172.22 557.11 L170.19 557.17 L168.59 557.22 L167.38 557.25 L166.54 557.28 L166.01 557.29 L165.72 557.30 L165.62 557.30 L165.60 557.30Z" fill="#e1007d" fill-opacity="0.500"/>
<path d="M165.60 310.35 L165.62 310.35 L165.72 310.34 L166.01 310.33 L166.54 310.29 L167.38 310.24 L168.59 310.16 L170.19 310.05 L172.22 309.89 L174.67 309.70 L177.56 309.46 L180.85 309.17 L184.52 308.83 L188.53 308.43 L192.81 307.98 L197.34 307.48 L202.04 306.92 L206.86 306.31 L211.76 305.64 L216.70 304.93 L221.62 304.16 L226.51 303.33 L231.33 302.46 L236.07 301.54 L240.71 300.56 L245.26 299.52 L249.69 298.43 L254.03 297.27 L258.27 296.05 L262.43 294.76 L266.51 293.39 L270.52 291.95 L274.49 290.41 L278.43 288.79 L282.34 287.07 L286.26 285.25 L290.18 283.32 L294.14 281.27 L298.14 279.10 L302.19 276.81 L306.30 274.40 L310.48 271.87 L314.74 269.21 L319.08 266.43 L323.52 263.53 L328.05 260.49 L332.68 257.33 L337.41 254.05 L342.25 250.64 L347.20 247.11 L352.24 243.47 L357.38 239.71 L362.61 235.86 L367.93 231.91 L373.33 227.87 L378.80 223.76 L384.32 219.59 L389.90 215.36 L395.51 211.10 L401.15 206.81 L406.80 202.50 L412.45 198.19 L418.09 193.90 L423.70 189.64 L429.28 185.41 L434.80 181.24 L440.27 177.13 L445.67 173.09 L450.99 169.14 L456.22 165.29 L461.36 161.53 L466.40 157.89 L471.35 154.36 L476.19 150.95 L480.92 147.67 L485.55 144.51 L490.08 141.47 L494.52 138.57 L498.86 135.79 L503.12 133.13 L507.30 130.60 L511.41 128.19 L515.46 125.90 L519.46 123.73 L523.42 121.68 L527.34 119.75 L531.26 117.93 L535.17 116.21 L539.11 114.59 L543.08 113.05 L547.09 111.61 L551.17 110.24 L555.33 108.95 L559.57 107.73 L563.91 106.57 L568.34 105.48 L572.89 104.44 L577.53 103.46 L582.27 102.54 L587.09 101.67 L591.98 100.84 L596.90 100.07 L601.84 99.36 L606.74 98.69 L611.56 98.08 L616.26 97.52 L620.79 97.02 L625.07 96.57 L629.08 96.17 L632.75 95.83 L636.04 95.54 L638.93 95.30 L641.38 95.11 L643.41 94.95 L645.01 94.84 L646.22 94.76 L647.06 94.71 L647.59 94.67 L647.88 94.66 L647.98 94.65 L648.00 94.65 L648.00 192.15 L647.98 192.15 L647.88 192.16 L647.59 192.17 L647.06 192.21 L646.22 192.26 L645.01 192.34 L643.41 192.45 L641.38 192.61 L638.93 192.80 L636.04 193.04 L632.75 193.33 L629.08 193.67 L625.07 194.07 L620.79 194.52 L616.26 195.02 L611.56 195.58 L606.74 196.19 L601.84 196.86 L596.90 197.57 L591.98 198.34 L587.09 199.17 L582.27 200.04 L577.53 200.96 L572.89 201.94 L568.34 202.98 L563.91 204.07 L559.57 205.23 L555.33 206.45 L551.17 207.74 L547.09 209.11 L543.08 210.55 L539.11 212.09 L535.17 213.71 L531.26 215.43 L527.34 217.25 L523.42 219.18 L519.46 221.23 L515.46 223.40 L511.41 225.69 L507.30 228.10 L503.12 230.63 L498.86 233.29 L494.52 236.07 L490.08 238.97 L485.55 242.01 L480.92 245.17 L476.19 248.45 L471.35 251.86 L466.40 255.39 L461.36 259.03 L456.22 262.79 L450.99 266.64 L445.67 270.59 L440.27 274.63 L434.80 278.74 L429.28 282.91 L423.70 287.14 L418.09 291.40 L412.45 295.69 L406.80 300.00 L401.15 304.31 L395.51 308.60 L389.90 312.86 L384.32 317.09 L378.80 321.26 L373.33 325.37 L367.93 329.41 L362.61 333.36 L357.38 337.21 L352.24 340.97 L347.20 344.61 L342.25 348.14 L337.41 351.55 L332.68 354.83 L328.05 357.99 L323.52 361.03 L319.08 363.93 L314.74 366.71 L310.48 369.37 L306.30 371.90 L302.19 374.31 L298.14 376.60 L294.14 378.77 L290.18 380.82 L286.26 382.75 L282.34 384.57 L278.43 386.29 L274.49 387.91 L270.52 389.45 L266.51 390.89 L262.43 392.26 L258.27 393.55 L254.03 394.77 L249.69 395.93 L245.26 397.02 L240.71 398.06 L236.07 399.04 L231.33 399.96 L226.51 400.83 L221.62 401.66 L216.70 402.43 L211.76 403.14 L206.86 403.81 L202.04 404.42 L197.34 404.98 L192.81 405.48 L188.53 405.93 L184.52 406.33 L180.85 406.67 L177.56 406.96 L174.67 407.20 L172.22 407.39 L170.19 407.55 L168.59 407.66 L167.38 407.74 L166.54 407.79 L166.01 407.83 L165.72 407.84 L165.62 407.85 L165.60 407.85Z" fill="#599919" fill-opacity="0.500"/>
<path d="M165.60 532.95 L165.62 532.95 L165.72 532.95 L166.01 532.94 L166.54 532.93 L167.38 532.90 L168.59 532.87 L170.19 532.82 L172.22 532.76 L174.67 532.68 L177.56 532.58 L180.85 532.46 L184.52 532.31 L188.53 532.15 L192.81 531.96 L197.34 531.75 L202.04 531.52 L206.86 531.26 L211.76 530.98 L216.70 530.68 L221.62 530.36 L226.51 530.02 L231.33 529.65 L236.07 529.26 L240.71 528.85 L245.26 528.42 L249.69 527.96 L254.03 527.48 L258.27 526.97 L262.43 526.43 L266.51 525.86 L270.52 525.25 L274.49 524.61 L278.43 523.93 L282.34 523.22 L286.26 522.45 L290.18 521.64 L294.14 520.79 L298.14 519.88 L302.19 518.92 L306.30 517.92 L310.48 516.86 L314.74 515.75 L319.08 514.59 L323.52 513.37 L328.05 512.10 L332.68 510.78 L337.41 509.41 L342.25 507.98 L347.20 506.50 L352.24 504.98 L357.38 503.41 L362.61 501.80 L367.93 500.15 L373.33 498.46 L378.80 496.74 L384.32 495.00 L389.90 493.23 L395.51 491.45 L401.15 489.65 L406.80 487.85 L412.45 486.05 L418.09 484.25 L423.70 482.47 L429.28 480.70 L434.80 478.96 L440.27 477.24 L445.67 475.55 L450.99 473.90 L456.22 472.29 L461.36 470.72 L466.40 469.20 L471.35 467.72 L476.19 466.29 L480.92 464.92 L485.55 463.60 L490.08 462.33 L494.52 461.11 L498.86 459.95 L503.12 458.84 L507.30 457.78 L511.41 456.78 L515.46 455.82 L519.46 454.91 L523.42 454.06 L527.34 453.25 L531.26 452.48 L535.17 451.77 L539.11 451.09 L543.08 450.45 L547.09 449.84 L551.17 449.27 L555.33 448.73 L559.57 448.22 L563.91 447.74 L568.34 447.28 L572.89 446.85 L577.53 446.44 L582.27 446.05 L587.09 445.68 L591.98 445.34 L596.90 445.02 L601.84 444.72 L606.74 444.44 L611.56 444.18 L616.26 443.95 L620.79 443.74 L625.07 443.55 L629.08 443.39 L632.75 443.24 L636.04 443.12 L638.93 443.02 L641.38 442.94 L643.41 442.88 L645.01 442.83 L646.22 442.80 L647.06 442.77 L647.59 442.76 L647.88 442.75 L647.98 442.75 L648.00 442.75 L648.00 460.15 L647.98 460.15 L647.88 460.15 L647.59 460.16 L647.06 460.17 L646.22 460.20 L645.01 460.23 L643.41 460.28 L641.38 460.34 L638.93 460.42 L636.04 460.52 L632.75 460.64 L629.08 460.79 L625.07 460.95 L620.79 461.14 L616.26 461.35 L611.56 461.58 L606.74 461.84 L601.84 462.12 L596.90 462.42 L591.98 462.74 L587.09 463.08 L582.27 463.45 L577.53 463.84 L572.89 464.25 L568.34 464.68 L563.91 465.14 L559.57 465.62 L555.33 466.13 L551.17 466.67 L547.09 467.24 L543.08 467.85 L539.11 468.49 L535.17 469.17 L531.26 469.88 L527.34 470.65 L523.42 471.46 L519.46 472.31 L515.46 473.22 L511.41 474.18 L507.30 475.18 L503.12 476.24 L498.86 477.35 L494.52 478.51 L490.08 479.73 L485.55 481.00 L480.92 482.32 L476.19 483.69 L471.35 485.12 L466.40 486.60 L461.36 488.12 L456.22 489.69 L450.99 491.30 L445.67 492.95 L440.27 494.64 L434.80 496.36 L429.28 498.10 L423.70 499.87 L418.09 501.65 L412.45 503.45 L406.80 505.25 L401.15 507.05 L395.51 508.85 L389.90 510.63 L384.32 512.40 L378.80 514.14 L373.33 515.86 L367.93 517.55 L362.61 519.20 L357.38 520.81 L352.24 522.38 L347.20 523.90 L342.25 525.38 L337.41 526.81 L332.68 528.18 L328.05 529.50 L323.52 530.77 L319.08 531.99 L314.74 533.15 L310.48 534.26 L306.30 535.32 L302.19 536.32 L298.14 537.28 L294.14 538.19 L290.18 539.04 L286.26 539.85 L282.34 540.62 L278.43 541.33 L274.49 542.01 L270.52 542.65 L266.51 543.26 L262.43 543.83 L258.27 544.37 L254.03 544.88 L249.69 545.36 L245.26 545.82 L240.71 546.25 L236.07 546.66 L231.33 547.05 L226.51 547.42 L221.62 547.76 L216.70 548.08 L211.76 548.38 L206.86 548.66 L202.04 548.92 L197.34 549.15 L192.81 549.36 L188.53 549.55 L184.52 549.71 L180.85 549.86 L177.56 549.98 L174.67 550.08 L172.22 550.16 L170.19 550.22 L168.59 550.27 L167.38 550.30 L166.54 550.33 L166.01 550.34 L165.72 550.35 L165.62 550.35 L165.60 550.35Z" fill="#dd9d05" fill-opacity="0.500"/>
<path d="M165.60 474.05 L165.62 474.05 L165.72 474.05 L166.01 474.04 L166.54 474.03 L167.38 474.00 L168.59 473.97 L170.19 473.92 L172.22 473.86 L174.67 473.78 L177.56 473.68 L180.85 473.56 L184.52 473.41 L188.53 473.25 L192.81 473.06 L197.34 472.85 L202.04 472.62 L206.86 472.36 L211.76 472.08 L216.70 471.78 L221.62 471.46 L226.51 471.12 L231.33 470.75 L236.07 470.36 L240.71 469.95 L245.26 469.52 L249.69 469.06 L254.03 468.58 L258.27 468.07 L262.43 467.53 L266.51 466.96 L270.52 466.35 L274.49 465.71 L278.43 465.03 L282.34 464.32 L286.26 463.55 L290.18 462.74 L294.14 461.89 L298.14 460.98 L302.19 460.02 L306.30 459.02 L310.48 457.96 L314.74 456.85 L319.08 455.69 L323.52 454.47 L328.05 453.20 L332.68 451.88 L337.41 450.51 L342.25 449.08 L347.20 447.60 L352.24 446.08 L357.38 444.51 L362.61 442.90 L367.93 441.25 L373.33 439.56 L378.80 437.84 L384.32 436.10 L389.90 434.33 L395.51 432.55 L401.15 430.75 L406.80 428.95 L412.45 427.15 L418.09 425.35 L423.70 423.57 L429.28 421.80 L434.80 420.06 L440.27 418.34 L445.67 416.65 L450.99 415.00 L456.22 413.39 L461.36 411.82 L466.40 410.30 L471.35 408.82 L476.19 407.39 L480.92 406.02 L485.55 404.70 L490.08 403.43 L494.52 402.21 L498.86 401.05 L503.12 399.94 L507.30 398.88 L511.41 397.88 L515.46 396.92 L519.46 396.01 L523.42 395.16 L527.34 394.35 L531.26 393.58 L535.17 392.87 L539.11 392.19 L543.08 391.55 L547.09 390.94 L551.17 390.37 L555.33 389.83 L559.57 389.32 L563.91 388.84 L568.34 388.38 L572.89 387.95 L577.53 387.54 L582.27 387.15 L587.09 386.78 L591.98 386.44 L596.90 386.12 L601.84 385.82 L606.74 385.54 L611.56 385.28 L616.26 385.05 L620.79 384.84 L625.07 384.65 L629.08 384.49 L632.75 384.34 L636.04 384.22 L638.93 384.12 L641.38 384.04 L643.41 383.98 L645.01 383.93 L646.22 383.90 L647.06 383.87 L647.59 383.86 L647.88 383.85 L647.98 383.85 L648.00 383.85 L648.00 442.75 L647.98 442.75 L647.88 442.75 L647.59 442.76 L647.06 442.77 L646.22 442.80 L645.01 442.83 L643.41 442.88 L641.38 442.94 L638.93 443.02 L636.04 443.12 L632.75 443.24 L629.08 443.39 L625.07 443.55 L620.79 443.74 L616.26 443.95 L611.56 444.18 L606.74 444.44 L601.84 444.72 L596.90 445.02 L591.98 445.34 L587.09 445.68 L582.27 446.05 L577.53 446.44 L572.89 446.85 L568.34 447.28 L563.91 447.74 L559.57 448.22 L555.33 448.73 L551.17 449.27 L547.09 449.84 L543.08 450.45 L539.11 451.09 L535.17 451.77 L531.26 452.48 L527.34 453.25 L523.42 454.06 L519.46 454.91 L515.46 455.82 L511.41 456.78 L507.30 457.78 L503.12 458.84 L498.86 459.95 L494.52 461.11 L490.08 462.33 L485.55 463.60 L480.92 464.92 L476.19 466.29 L471.35 467.72 L466.40 469.20 L461.36 470.72 L456.22 472.29 L450.99 473.90 L445.67 475.55 L440.27 477.24 L434.80 478.96 L429.28 480.70 L423.70 482.47 L418.09 484.25 L412.45 486.05 L406.80 487.85 L401.15 489.65 L395.51 491.45 L389.90 493.23 L384.32 495.00 L378.80 496.74 L373.33 498.46 L367.93 500.15 L362.61 501.80 L357.38 503.41 L352.24 504.98 L347.20 506.50 L342.25 507.98 L337.41 509.41 L332.68 510.78 L328.05 512.10 L323.52 513.37 L319.08 514.59 L314.74 515.75 L310.48 516.86 L306.30 517.92 L302.19 518.92 L298.14 519.88 L294.14 520.79 L290.18 521.64 L286.26 522.45 L282.34 523.22 L278.43 523.93 L274.49 524.61 L270.52 525.25 L266.51 525.86 L262.43 526.43 L258.27 526.97 L254.03 527.48 L249.69 527.96 L245.26 528.42 L240.71 528.85 L236.07 529.26 L231.33 529.65 L226.51 530.02 L221.62 530.36 L216.70 530.68 L211.76 530.98 L206.86 531.26 L202.04 531.52 L197.34 531.75 L192.81 531.96 L188.53 532.15 L184.52 532.31 L180.85 532.46 L177.56 532.58 L174.67 532.68 L172.22 532.76 L170.19 532.82 L168.59 532.87 L167.38 532.90 L166.54 532.93 L166.01 532.94 L165.72 532.95 L165.62 532.95 L165.60 532.95Z" fill="#956117" fill-opacity="0.500"/>
<path d="M165.60 557.30 L165.62 557.30 L165.72 557.30 L166.01 557.31 L166.54 557.32 L167.38 557.33 L168.59 557.36 L170.19 557.39 L172.22 557.44 L174.67 557.50 L177.56 557.57 L180.85 557.66 L184.52 557.77 L188.53 557.89 L192.81 558.02 L197.34 558.18 L202.04 558.35 L206.86 558.54 L211.76 558.74 L216.70 558.96 L221.62 559.20 L226.51 559.45 L231.33 559.71 L236.07 560.00 L240.71 560.30 L245.26 560.61 L249.69 560.95 L254.03 561.30 L258.27 561.68 L262.43 562.07 L266.51 562.49 L270.52 562.93 L274.49 563.40 L278.43 563.90 L282.34 564.42 L286.26 564.98 L290.18 565.57 L294.14 566.20 L298.14 566.86 L302.19 567.56 L306.30 568.30 L310.48 569.07 L314.74 569.89 L319.08 570.74 L323.52 571.63 L328.05 572.56 L332.68 573.52 L337.41 574.53 L342.25 575.57 L347.20 576.65 L352.24 577.77 L357.38 578.91 L362.61 580.09 L367.93 581.30 L373.33 582.54 L378.80 583.79 L384.32 585.07 L389.90 586.36 L395.51 587.67 L401.15 588.98 L406.80 590.30 L412.45 591.62 L418.09 592.93 L423.70 594.24 L429.28 595.53 L434.80 596.81 L440.27 598.06 L445.67 599.30 L450.99 600.51 L456.22 601.69 L461.36 602.83 L466.40 603.95 L471.35 605.03 L476.19 606.07 L480.92 607.08 L485.55 608.04 L490.08 608.97 L494.52 609.86 L498.86 610.71 L503.12 611.53 L507.30 612.30 L511.41 613.04 L515.46 613.74 L519.46 614.40 L523.42 615.03 L527.34 615.62 L531.26 616.18 L535.17 616.70 L539.11 617.20 L543.08 617.67 L547.09 618.11 L551.17 618.53 L555.33 618.92 L559.57 619.30 L563.91 619.65 L568.34 619.99 L572.89 620.30 L577.53 620.60 L582.27 620.89 L587.09 621.15 L591.98 621.40 L596.90 621.64 L601.84 621.86 L606.74 622.06 L611.56 622.25 L616.26 622.42 L620.79 622.58 L625.07 622.71 L629.08 622.83 L632.75 622.94 L636.04 623.03 L638.93 623.10 L641.38 623.16 L643.41 623.21 L645.01 623.24 L646.22 623.27 L647.06 623.28 L647.59 623.29 L647.88 623.30 L647.98 623.30 L648.00 623.30 L648.00 689.40 L647.98 689.40 L647.88 689.40 L647.59 689.39 L647.06 689.38 L646.22 689.37 L645.01 689.34 L643.41 689.31 L641.38 689.26 L638.93 689.20 L636.04 689.13 L632.75 689.04 L629.08 688.93 L625.07 688.81 L620.79 688.68 L616.26 688.52 L611.56 688.35 L606.74 688.16 L601.84 687.96 L596.90 687.74 L591.98 687.50 L587.09 687.25 L582.27 686.99 L577.53 686.70 L572.89 686.40 L568.34 686.09 L563.91 685.75 L559.57 685.40 L555.33 685.02 L551.17 684.63 L547.09 684.21 L543.08 683.77 L539.11 683.30 L535.17 682.80 L531.26 682.28 L527.34 681.72 L523.42 681.13 L519.46 680.50 L515.46 679.84 L511.41 679.14 L507.30 678.40 L503.12 677.63 L498.86 676.81 L494.52 675.96 L490.08 675.07 L485.55 674.14 L480.92 673.18 L476.19 672.17 L471.35 671.13 L466.40 670.05 L461.36 668.93 L456.22 667.79 L450.99 666.61 L445.67 665.40 L440.27 664.16 L434.80 662.91 L429.28 661.63 L423.70 660.34 L418.09 659.03 L412.45 657.72 L406.80 656.40 L401.15 655.08 L395.51 653.77 L389.90 652.46 L384.32 651.17 L378.80 649.89 L373.33 648.64 L367.93 647.40 L362.61 646.19 L357.38 645.01 L352.24 643.87 L347.20 642.75 L342.25 641.67 L337.41 640.63 L332.68 639.62 L328.05 638.66 L323.52 637.73 L319.08 636.84 L314.74 635.99 L310.48 635.17 L306.30 634.40 L302.19 633.66 L298.14 632.96 L294.14 632.30 L290.18 631.67 L286.26 631.08 L282.34 630.52 L278.43 630.00 L274.49 629.50 L270.52 629.03 L266.51 628.59 L262.43 628.17 L258.27 627.78 L254.03 627.40 L249.69 627.05 L245.26 626.71 L240.71 626.40 L236.07 626.10 L231.33 625.81 L226.51 625.55 L221.62 625.30 L216.70 625.06 L211.76 624.84 L206.86 624.64 L202.04 624.45 L197.34 624.28 L192.81 624.12 L188.53 623.99 L184.52 623.87 L180.85 623.76 L177.56 623.67 L174.67 623.60 L172.22 623.54 L170.19 623.49 L168.59 623.46 L167.38 623.43 L166.54 623.42 L166.01 623.41 L165.72 623.40 L165.62 623.40 L165.60 623.40Z" fill="#956117" fill-opacity="0.500"/>
<line x1="45.75" x2="45.75" y1="49.05" y2="724.70" stroke="#d6d6d6" stroke-width="1.30"/>
<line x1="165.75" x2="165.75" y1="49.05" y2="724.70" stroke="#b8b8b8" stroke-width="1.50"/>
<line x1="648.00" x2="648.00" y1="49.05" y2="724.70" stroke="#bdbdbd" stroke-width="1.40"/>
<line x1="768.00" x2="768.00" y1="49.05" y2="724.70" stroke="#d9d9d9" stroke-width="1.60"/>
<line x1="165.00" x2="648.50" y1="557.30" y2="557.30" stroke="#bdbdbd" stroke-width="1.30"/>
<line x1="45.10" x2="166.50" y1="49.65" y2="49.65" stroke="#bdbdbd" stroke-width="1.60"/>
<line x1="45.10" x2="166.50" y1="310.35" y2="310.35" stroke="#bdbdbd" stroke-width="1.60"/>
<line x1="45.10" x2="166.50" y1="407.85" y2="407.85" stroke="#bdbdbd" stroke-width="1.60"/>
<line x1="45.10" x2="166.50" y1="474.05" y2="474.05" stroke="#bdbdbd" stroke-width="1.60"/>
<line x1="45.10" x2="166.50" y1="532.95" y2="532.95" stroke="#bdbdbd" stroke-width="1.60"/>
<line x1="45.10" x2="166.50" y1="550.35" y2="550.35" stroke="#bdbdbd" stroke-width="1.60"/>
<line x1="45.10" x2="166.50" y1="557.30" y2="557.30" stroke="#bdbdbd" stroke-width="1.60"/>
<line x1="45.10" x2="166.50" y1="623.40" y2="623.40" stroke="#bdbdbd" stroke-width="1.60"/>
<line x1="45.10" x2="166.50" y1="682.70" y2="682.70" stroke="#bdbdbd" stroke-width="1.60"/>
<line x1="45.10" x2="166.50" y1="724.10" y2="724.10" stroke="#bdbdbd" stroke-width="1.60"/>
<line x1="647.30" x2="768.80" y1="49.65" y2="49.65" stroke="#bdbdbd" stroke-width="1.60"/>
<line x1="647.30" x2="768.80" y1="258.35" y2="258.35" stroke="#bdbdbd" stroke-width="1.60"/>
<line x1="647.30" x2="768.80" y1="467.10" y2="467.10" stroke="#bdbdbd" stroke-width="1.60"/>
<line x1="647.30" x2="768.80" y1="557.30" y2="557.30" stroke="#bdbdbd" stroke-width="1.60"/>
<line x1="647.30" x2="768.80" y1="623.30" y2="623.30" stroke="#bdbdbd" stroke-width="1.60"/>
<line x1="647.30" x2="768.80" y1="689.40" y2="689.40" stroke="#bdbdbd" stroke-width="1.60"/>
<line x1="647.30" x2="768.80" y1="724.10" y2="724.10" stroke="#bdbdbd" stroke-width="1.60"/>
<rect x="91.7" y="533.15" width="26.6" height="17.8" fill="white"/>
<rect x="66.9" y="544.93" width="77" height="17.8" fill="white"/>
<text x="105.60" y="184.90" class="lab">Age</text>
<text x="105.60" y="364.00" class="lab">Sex</text>
<text x="105.60" y="445.85" class="lab">Education</text>
<text x="105.60" y="508.40" class="lab">TQ</text>
<text x="105.60" y="546.55" class="lab">SIN</text>
<text x="105.60" y="558.73" class="lab">Hearing loss</text>
<text x="105.60" y="595.25" class="lab">TQ</text>
<text x="105.60" y="657.95" class="lab">HADS_depression</text>
<text x="105.60" y="708.30" class="lab">Education</text>
<text x="707.60" y="158.90" class="lab">MWT_B</text>
<text x="707.60" y="367.62" class="lab">TMT_B</text>
<text x="707.60" y="517.10" class="lab">TMT_A</text>
<text x="707.60" y="595.20" class="lab">TMT_B</text>
<text x="707.60" y="661.25" class="lab">MWT_B</text>
<text x="707.60" y="711.65" class="lab">TMT_A</text>
<line x1="41.8" x2="46.0" y1="35.38" y2="35.38" stroke="#b4b4b4" stroke-width="0.8"/>
<text x="40.0" y="41.17" class="tick">1.5</text>
<line x1="41.8" x2="46.0" y1="209.35" y2="209.35" stroke="#b4b4b4" stroke-width="0.8"/>
<text x="40.0" y="215.15" class="tick">1.0</text>
<line x1="41.8" x2="46.0" y1="383.32" y2="383.32" stroke="#b4b4b4" stroke-width="0.8"/>
<text x="40.0" y="389.12" class="tick">0.5</text>
<line x1="41.8" x2="46.0" y1="557.30" y2="557.30" stroke="#b4b4b4" stroke-width="0.8"/>
<text x="40.0" y="562.20" class="tick">0.0</text>
<line x1="41.8" x2="46.0" y1="731.27" y2="731.27" stroke="#b4b4b4" stroke-width="0.8"/>
<text x="40.0" y="737.07" class="tick">-0.5</text>
<line x1="105.50" x2="105.50" y1="13.4" y2="15.8" stroke="#b4b4b4" stroke-width="0.8"/>
<line x1="708.00" x2="708.00" y1="13.4" y2="15.8" stroke="#b4b4b4" stroke-width="0.8"/>
<text x="105.6" y="10.7" class="ttl" text-anchor="middle">Predictor</text>
<text x="708" y="10.7" class="ttl" text-anchor="middle">Dependent Variable</text>
<text transform="translate(11,387.1) rotate(-90)" class="ttl" text-anchor="middle">Relative coefficients and polarity of effects</text>
</svg>
</body></html>
